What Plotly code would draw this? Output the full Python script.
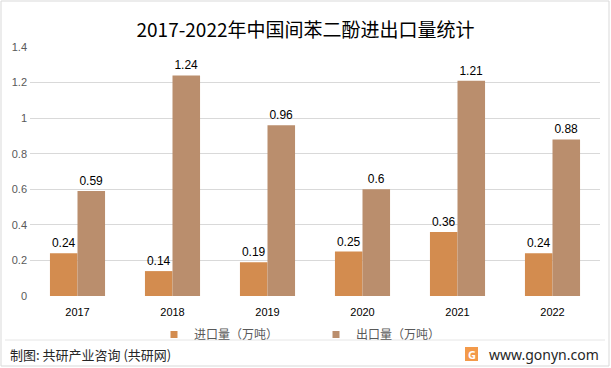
import plotly.graph_objects as go

years = ["2017", "2018", "2019", "2020", "2021", "2022"]
imports = [0.24, 0.14, 0.19, 0.25, 0.36, 0.24]
exports = [0.59, 1.24, 0.96, 0.6, 1.21, 0.88]
y_ticks = [0, 0.2, 0.4, 0.6, 0.8, 1, 1.2, 1.4]
y_tick_text = ["0", "0.2", "0.4", "0.6", "0.8", "1", "1.2", "1.4"]
series_names = ["进口量（万吨）", "出口量（万吨）"]
colors = ["#D38C4F", "#BA8E6D"]

font_cjk = "Noto Sans CJK SC, Microsoft YaHei, sans-serif"

fig = go.Figure()
for name, vals, col in zip(series_names, [imports, exports], colors):
    fig.add_trace(go.Bar(
        x=years, y=vals, name=name, showlegend=False,
        marker=dict(color=col, line=dict(width=0)),
        text=[f"{v:g}" for v in vals], textposition="outside",
        textfont=dict(size=12, color="#000000", family="Liberation Sans, Arial, sans-serif"),
        cliponaxis=False,
    ))
# legend entries with small square symbols
for name, col in zip(series_names, colors):
    fig.add_trace(go.Scatter(
        x=[None], y=[None], mode="markers", name=name,
        marker=dict(symbol="square", size=7, color=col), showlegend=True,
    ))

PL, PT, PW, PH = 30, 47, 570, 249

def px(x):
    return (x - PL) / PW

def py(y):
    return (PT + PH - y) / PH

fig.update_layout(
    width=611, height=368,
    margin=dict(l=30, r=11, t=47, b=72),
    paper_bgcolor="white", plot_bgcolor="white",
    barmode="group", bargap=0.42, bargroupgap=0,
    font=dict(family=font_cjk, color="#595959", size=11),
    title=dict(text="2017-2022年中国间苯二酚进出口量统计", x=0.5, xanchor="center",
               y=1 - 30 / 368, yanchor="middle",
               font=dict(size=19, color="#000000", family=font_cjk)),
    showlegend=True,
    legend=dict(orientation="h", x=px(154), xanchor="left", y=py(320), yanchor="top",
                font=dict(size=12, color="#595959", family=font_cjk),
                itemwidth=30, traceorder="normal", entrywidth=117,
                bgcolor="rgba(0,0,0,0)"),
    xaxis=dict(showgrid=False, showline=False, ticks="", ticklabelstandoff=8,
               tickfont=dict(size=11, color="#000000", family="Liberation Sans, Arial, sans-serif"),
               zeroline=False),
    yaxis=dict(range=[0, 1.4], tickvals=y_ticks, ticktext=y_tick_text,
               showgrid=True, gridcolor="#D9D9D9", gridwidth=1, zeroline=False,
               showline=False, ticks="", ticklabelstandoff=2,
               tickfont=dict(size=11, color="#595959", family="Liberation Sans, Arial, sans-serif")),
)

# outer border and footer separator
fig.add_shape(type="rect", xref="paper", yref="paper", x0=px(1), x1=px(609),
              y0=py(366), y1=py(1), line=dict(color="#D9D9D9", width=1))
fig.add_shape(type="line", xref="paper", yref="paper", x0=px(5), x1=px(605),
              y0=py(340), y1=py(340), line=dict(color="#E6E6E6", width=1))

fig.add_annotation(text="制图: 共研产业咨询 (共研网)", xref="paper", yref="paper",
                   x=px(8), y=py(354), xanchor="left", yanchor="middle",
                   showarrow=False, font=dict(size=13, color="#262626", family=font_cjk))
fig.add_annotation(text="www.gonyn.com", xref="paper", yref="paper",
                   x=px(601), y=py(354), xanchor="right", yanchor="middle",
                   showarrow=False, font=dict(size=14, color="#262626", family="Noto Sans, sans-serif"))
# logo
fig.add_shape(type="rect", xref="paper", yref="paper", x0=px(465), x1=px(478),
              y0=py(361), y1=py(347), line=dict(width=0), fillcolor="#F39A4A")
fig.add_annotation(text="<b>G</b>", xref="paper", yref="paper",
                   x=px(471.5), y=py(354), xanchor="center", yanchor="middle",
                   showarrow=False, font=dict(size=11, color="white", family="Noto Sans, sans-serif"))

fig.write_html("out.html", config={"displayModeBar": False},
               post_script="document.body.style.margin='0';")
